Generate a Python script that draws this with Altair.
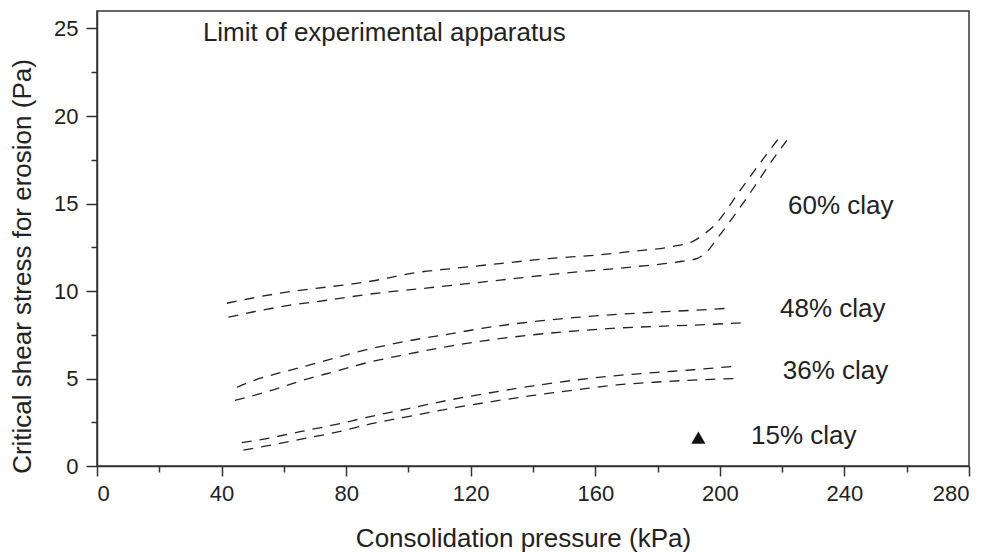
import altair as alt
import pandas as pd

# ---- data ----
c60_upper_x = [41.7, 50, 61.4, 75, 86.6, 103.2, 115, 129.4, 144.9, 160, 172.2, 185, 191.5, 194.5, 198, 206.5, 215.6, 219.9]
c60_upper_y = [9.30, 9.60, 9.95, 10.25, 10.52, 11.07, 11.30, 11.57, 11.85, 12.05, 12.27, 12.55, 12.85, 13.20, 13.70, 15.75, 17.95, 18.95]

c60_lower_x = [42.2, 50, 62, 75, 86.6, 106.4, 129.4, 148.7, 172.2, 188, 192.5, 195, 199.5, 208.1, 217.2, 221.5]
c60_lower_y = [8.50, 8.80, 9.19, 9.50, 9.80, 10.18, 10.62, 11.00, 11.38, 11.70, 11.85, 12.10, 13.09, 15.18, 17.56, 18.60]

c48_upper_x = [44.9, 50.7, 56.6, 65.2, 75.9, 86.6, 100, 113.4, 124.1, 140.1, 154, 166.9, 180, 191.5, 203.3]
c48_upper_y = [4.50, 4.91, 5.22, 5.62, 6.15, 6.65, 7.15, 7.55, 7.88, 8.25, 8.49, 8.66, 8.80, 8.90, 9.02]

c48_lower_x = [44.3, 56.6, 65.2, 75.9, 86.6, 100, 113.4, 124.1, 140.1, 154, 166.9, 180, 191.5, 206.7]
c48_lower_y = [3.75, 4.35, 4.85, 5.38, 5.90, 6.40, 6.85, 7.15, 7.50, 7.72, 7.88, 7.98, 8.05, 8.18]

c36_upper_x = [46.5, 56, 65.2, 78, 86.6, 100, 113.4, 124.1, 140.1, 154, 166.9, 180, 191.5, 205.4]
c36_upper_y = [1.33, 1.62, 1.96, 2.42, 2.78, 3.28, 3.78, 4.12, 4.58, 4.92, 5.17, 5.35, 5.50, 5.71]

c36_lower_x = [47.0, 56, 65.2, 78.6, 86.6, 102.7, 113.4, 126.7, 140.1, 156.7, 166.9, 180, 191.5, 206]
c36_lower_y = [0.91, 1.20, 1.52, 2.00, 2.35, 2.92, 3.28, 3.68, 4.03, 4.42, 4.63, 4.80, 4.91, 5.00]

point15_x = [193.1]
point15_y = [1.62]

label_texts = ["Limit of experimental apparatus", "60% clay", "48% clay", "36% clay", "15% clay"]
label_x = [34.0, 221.9, 219.3, 220.2, 210.0]
label_y = [24.3, 14.42, 8.52, 4.97, 1.24]

x_ticks = [0, 20, 40, 60, 80, 100, 120, 140, 160, 180, 200, 220, 240, 260, 280]
y_ticks = [0, 2.5, 5, 7.5, 10, 12.5, 15, 17.5, 20, 22.5, 25]

# ---- build tables ----
series = [
    ("60a", c60_upper_x, c60_upper_y),
    ("60b", c60_lower_x, c60_lower_y),
    ("48a", c48_upper_x, c48_upper_y),
    ("48b", c48_lower_x, c48_lower_y),
    ("36a", c36_upper_x, c36_upper_y),
    ("36b", c36_lower_x, c36_lower_y),
]
rows = []
for name, xs, ys in series:
    for i, (xv, yv) in enumerate(zip(xs, ys)):
        rows.append({"series": name, "order": i, "x": xv, "y": yv})
lines_df = pd.DataFrame(rows)
pts_df = pd.DataFrame({"x": point15_x, "y": point15_y})
lab_df = pd.DataFrame({"text": label_texts, "x": label_x, "y": label_y})

FONT = "Liberation Sans"
INK = "#222222"

x_scale = alt.Scale(domain=[0, 280], nice=False, zero=False)
y_scale = alt.Scale(domain=[0, 26], nice=False, zero=False)

x_axis = alt.Axis(
    title="Consolidation pressure (kPa)",
    values=x_ticks,
    labelExpr="datum.value % 40 === 0 ? datum.label : ''",
    tickSize={"condition": {"test": "datum.value % 40 === 0", "value": 10}, "value": 6},
    labelPadding=7,
    titlePadding=21,
    titleX=426,
)
y_axis = alt.Axis(
    title="Critical shear stress for erosion (Pa)",
    values=y_ticks,
    labelExpr="datum.value % 5 === 0 ? datum.label : ''",
    tickSize={"condition": {"test": "datum.value % 5 === 0", "value": 11}, "value": 6},
    labelPadding=8,
    titlePadding=18,
    titleY=255,
)

lines = alt.Chart(lines_df).mark_line(
    strokeDash=[10, 8], strokeWidth=1.3, color=INK, interpolate="monotone"
).encode(
    x=alt.X("x:Q", scale=x_scale, axis=x_axis),
    y=alt.Y("y:Q", scale=y_scale, axis=y_axis),
    detail="series:N",
    order="order:Q",
)

tri = alt.Chart(pts_df).mark_point(
    shape="triangle-up", filled=True, size=200, color="#111111", opacity=1
).encode(x="x:Q", y="y:Q")

labels = alt.Chart(lab_df).mark_text(
    align="left", baseline="alphabetic", fontSize=26, font=FONT, color=INK
).encode(x="x:Q", y="y:Q", text="text:N")

chart = alt.layer(lines, tri, labels).properties(
    width=872,
    height=455,
    autosize=alt.AutoSizeParams(type="none"),
    padding={"left": 97, "top": 11, "right": 20, "bottom": 88},
    background="white",
).configure_view(
    stroke="#333333", strokeWidth=1.5
).configure_axis(
    grid=False,
    domainColor="#333333",
    domainWidth=1.5,
    tickColor="#333333",
    tickWidth=1.5,
    labelFont=FONT,
    labelFontSize=22,
    labelColor=INK,
    titleFont=FONT,
    titleFontSize=26,
    titleFontWeight="normal",
    titleColor=INK,
)

chart.save("out.html", embed_options={"renderer": "svg", "actions": False})
